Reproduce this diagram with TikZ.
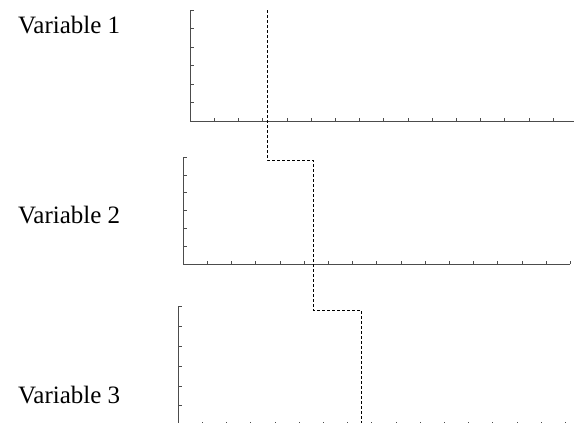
\documentclass[tikz,border=0pt]{standalone}
\usepackage{fontspec}
\setmainfont{Liberation Serif}
\begin{document}
\begin{tikzpicture}[x=1pt, y=-1pt,
  axisline/.style={draw=black!70, line width=0.8pt},
  tickline/.style={draw=black!70, line width=0.6pt},
  trace/.style={draw=black, line width=0.7pt, dash pattern=on 3pt off 2pt},
  varlabel/.style={anchor=base west, inner sep=0pt, font=\fontsize{25}{30}\selectfont}]
\useasboundingbox (0,0) rectangle (574,423);
\clip (0,0) rectangle (574,423);

% panel origins, tops and tick spacing
\coordinate (o1) at (190,121);
\coordinate (o2) at (183,264);
\coordinate (o3) at (178,425.5);

% labels
\node[varlabel] (lab1) at (18,33) {Variable 1};
\node[varlabel] (lab2) at (18,223) {Variable 2};
\node[varlabel] (lab3) at (18,403) {Variable 3};

% panel 1
\draw[axisline] (190,10) -- (o1) -- (580,121);
\foreach \k in {1,...,6} \draw[tickline] (190,121-18.5*\k) -- ++(3.5,0);
\foreach \k in {1,...,16} \draw[tickline] (190+24.2*\k,121) -- ++(0,-3.5);

% panel 2
\draw[axisline] (183,157) -- (o2) -- (570.2,264);
\foreach \k in {1,...,6} \draw[tickline] (183,264-17.83*\k) -- ++(3.5,0);
\foreach \k in {1,...,16} \draw[tickline] (183+24.2*\k,264) -- ++(0,-3.5);

% panel 3
\draw[axisline] (178,306.5) -- (o3) -- (565.2,425.5);
\foreach \k in {1,...,6} \draw[tickline] (178,425.5-19.83*\k) -- ++(3.5,0);
\foreach \k in {1,...,16} \draw[tickline] (178+24.2*\k,425.5) -- ++(0,-4);

% stepped dashed trace through the panels
\coordinate (s0) at (267,10);
\coordinate (s1) at (267,160);
\coordinate (s2) at (313,160);
\coordinate (s3) at (313,310);
\coordinate (s4) at (361,310);
\coordinate (s5) at (361,430);
\draw[trace] (s0) -- (s1) -- (s2) -- (s3) -- (s4) -- (s5);
\end{tikzpicture}
\end{document}
